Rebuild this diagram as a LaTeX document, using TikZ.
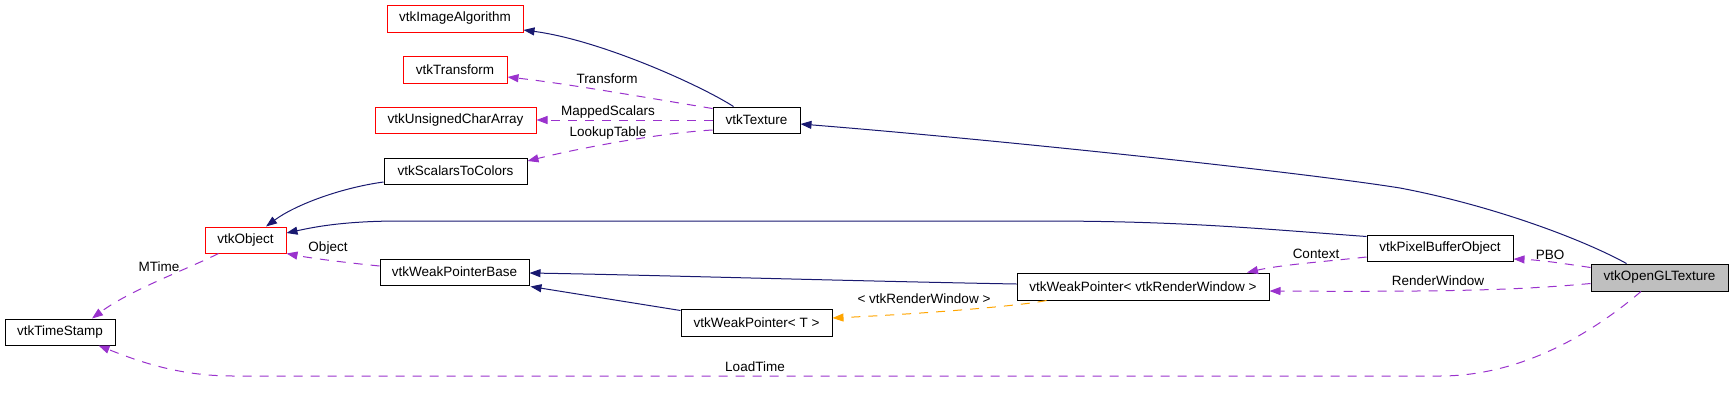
\documentclass[tikz,border=0pt]{standalone}
\usepackage{fontspec}
\setmainfont{Liberation Sans}
\usetikzlibrary{arrows.meta,calc}
\definecolor{navyc}{RGB}{25,25,112}
\definecolor{purp}{RGB}{154,50,205}
\definecolor{orng}{RGB}{255,165,0}
\definecolor{redb}{RGB}{255,0,0}
\definecolor{grayf}{RGB}{191,191,191}
\tikzset{
  cls/.style={draw=black, line width=1pt, rectangle, inner sep=0pt, minimum height=27pt,
    font=\fontsize{13.5}{16}\selectfont},
  redcls/.style={cls, draw=redb},
  lbl/.style={inner sep=0pt, font=\fontsize{13.5}{16}\selectfont},
  tip/.style={-{Triangle[length=11pt,width=8pt]}},
  inherit/.style={tip, draw=navyc, fill=none, line width=1pt},
  usage/.style={tip, draw=purp, line width=1pt, dash pattern=on 9pt off 8pt},
  templ/.style={tip, draw=orng, line width=1pt, dash pattern=on 9pt off 8pt},
}
\begin{document}
\begin{tikzpicture}[x=1pt,y=-1pt]
\useasboundingbox (0,0) rectangle (1733,405);
% nodes
\node[redcls, minimum width=136pt] (IA)  at (455,18.5) {vtkImageAlgorithm};
\node[redcls, minimum width=104pt] (TR)  at (455,69.5) {vtkTransform};
\node[redcls, minimum width=161pt, minimum height=26pt] (UCA) at (455.5,120) {vtkUnsignedCharArray};
\node[cls, minimum width=143pt, minimum height=26pt] (STC) at (455.5,171) {vtkScalarsToColors};
\node[redcls, minimum width=81pt, minimum height=26pt] (OBJ) at (245.5,240) {vtkObject};
\node[cls, minimum width=110pt, minimum height=26pt] (TS)  at (60,332) {vtkTimeStamp};
\node[cls, minimum width=149pt, minimum height=26pt] (WPB) at (454.5,272) {vtkWeakPointerBase};
\node[cls, minimum width=87pt, minimum height=26pt] (TEX) at (756.5,120) {vtkTexture};
\node[cls, minimum width=151pt] (WPT) at (756.5,322.5) {vtkWeakPointer< T >};
\node[cls, minimum width=252pt] (WPRW) at (1143,286.5) {vtkWeakPointer< vtkRenderWindow >};
\node[cls, minimum width=146pt, minimum height=26pt] (PBO) at (1440,248) {vtkPixelBufferObject};
\node[cls, fill=grayf, minimum width=137pt] (OGL) at (1659.5,277.5) {vtkOpenGLTexture};

% inheritance edges
\draw[inherit] ($(TEX.north west)+(21,0)$) .. controls (700,85) and (600,40) .. ($(IA.east)+(0,11.5)$);
\draw[inherit] ($(OGL.north west)+(36,0)$) .. controls (1580,238) and (1490,205) .. (1400,188)
   .. controls (1300,172) and (1000,140) .. ($(TEX.east)+(0,4)$);
\draw[inherit] ($(STC.west)+(0,11)$) .. controls (340,188) and (295,205) .. ($(OBJ.north)+(20.5,0)$);
\draw[inherit] ($(PBO.north west)+(0,2)$) .. controls (1250,228) and (1180,221) .. (1040,221)
   -- (400,221) .. controls (340,221) and (310,228) .. ($(OBJ.east)+(0,-7)$);
\draw[inherit] ($(WPRW.west)+(0,-2.5)$) .. controls (850,281) and (650,275) .. ($(WPB.east)+(0,1)$);
\draw[inherit] ($(WPT.north west)+(0,2)$) -- ($(WPB.south east)+(1,1)$);

% usage edges
\draw[usage] ($(TEX.north west)+(0,2)$) .. controls (660,100) and (570,84) .. ($(TR.east)+(0,7.5)$);
\draw[usage] (TEX.west) -- (UCA.east);
\draw[usage] ($(TEX.west)+(0,10)$) .. controls (660,133) and (580,148) .. ($(STC.east)+(0,-10)$);
\draw[usage] ($(PBO.west)+(0,9)$) .. controls (1320,262) and (1280,265) .. ($(WPRW.north)+(104,0)$);
\draw[usage] ($(OGL.west)+(0,-10)$) .. controls (1560,263) and (1540,260) .. ($(PBO.east)+(0,11)$);
\draw[usage] ($(OGL.west)+(0,6)$) .. controls (1520,290) and (1450,292) .. ($(WPRW.east)+(0,4.5)$);
\draw[usage] ($(OGL.south)+(-18.5,0)$) .. controls (1590,335) and (1520,376) .. (1440,376)
   -- (233,376) .. controls (180,376) and (140,362) .. ($(TS.south east)+(-17,0)$);
\draw[usage] ($(OBJ.south)+(-27,0)$) .. controls (190,268) and (130,290) .. ($(TS.north)+(32,0)$);
\draw[usage] ($(WPB.west)+(0,-6)$) .. controls (340,262) and (310,258) .. (OBJ.south east);
\draw[templ] ($(WPRW.south west)+(30,0)$) .. controls (1020,306) and (920,314) .. ($(WPT.east)+(0,-4.5)$);

% labels
\node[lbl] (lTR)  at (607,79) {Transform};
\node[lbl] (lMS)  at (608,112) {MappedScalars};
\node[lbl] (lLT)  at (608,133) {LookupTable};
\node[lbl] (lOB)  at (328,248) {Object};
\node[lbl] (lMT)  at (159,267) {MTime};
\node[lbl] (lLD)  at (755,367) {LoadTime};
\node[lbl] (lRW)  at (924,299) {< vtkRenderWindow >};
\node[lbl] (lCT)  at (1316,254) {Context};
\node[lbl] (lPB)  at (1550,255) {PBO};
\node[lbl] (lRWn) at (1438,281) {RenderWindow};
\end{tikzpicture}
\end{document}
